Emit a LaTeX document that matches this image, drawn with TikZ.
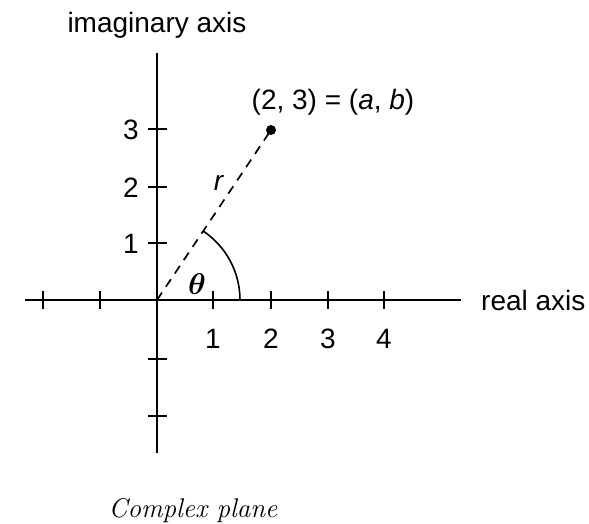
\documentclass[tikz,border=0pt]{standalone}
\usepackage{fix-cm}
\usepackage{amsmath}
\usepackage{fontspec}
\newfontfamily\sansf{Liberation Sans}
\newfontfamily\capf{Latin Modern Roman}
\begin{document}
\begin{tikzpicture}[x=1pt,y=-1pt,
  axis/.style={line width=2pt},
  tickmark/.style={line width=1.8pt},
  lab/.style={inner sep=0pt,font=\sansf\fontsize{28}{32}\selectfont},
  radius line/.style={line width=1.7pt,dash pattern=on 9pt off 7pt},
  anglearc/.style={line width=1.6pt}]
\useasboundingbox (0,0) rectangle (589,524);
% axes
\coordinate (O) at (157,300);
\coordinate (xl) at (25,300);
\coordinate (xr) at (461,300);
\coordinate (yt) at (157,53);
\coordinate (yb) at (157,453);
\draw[axis] (xl) -- (xr);
\draw[axis] (yt) -- (yb);
% ticks on real axis
\foreach \x in {43,100,213,271,328,384}
  \draw[tickmark] (\x,291) -- (\x,309);
% ticks on imaginary axis
\foreach \y in {129,187,243,359,416}
  \draw[tickmark] (148,\y) -- (167,\y);
% axis labels
\node[lab,anchor=base] (ylab) at (157,33) {imaginary axis};
\node[lab,anchor=base west] (xlab) at (481,310) {real axis};
% tick labels
\node[lab,anchor=base] (x1) at (213,348) {1};
\node[lab,anchor=base] (x2) at (271,348) {2};
\node[lab,anchor=base] (x3) at (328,348) {3};
\node[lab,anchor=base] (x4) at (384,348) {4};
\node[lab,anchor=east] (y3) at (139,130) {3};
\node[lab,anchor=east] (y2) at (139,188) {2};
\node[lab,anchor=east] (y1) at (139,244) {1};
% point and radius
\node[circle,fill,inner sep=0pt,minimum size=10pt] (P) at (271,130) {};
\node[lab,anchor=base] (Plab) at (333,110) {(2, 3) = (\textit{a}, \textit{b})};
\draw[radius line] (O) -- (P.center);
\node[lab] (r) at (219,183) {\textit{r}};
% angle
\draw[anglearc] (O) ++(83pt,0pt) arc[start angle=0,end angle=56.3,radius=83pt];
\node[inner sep=0pt,font=\fontsize{30}{34}\selectfont] (th) at (197,284) {$\boldsymbol{\theta}$};
% caption
\node[inner sep=0pt,anchor=base,font=\capf\itshape\fontsize{27}{32}\selectfont] (cap) at (193,517) {Complex plane};
\end{tikzpicture}
\end{document}
